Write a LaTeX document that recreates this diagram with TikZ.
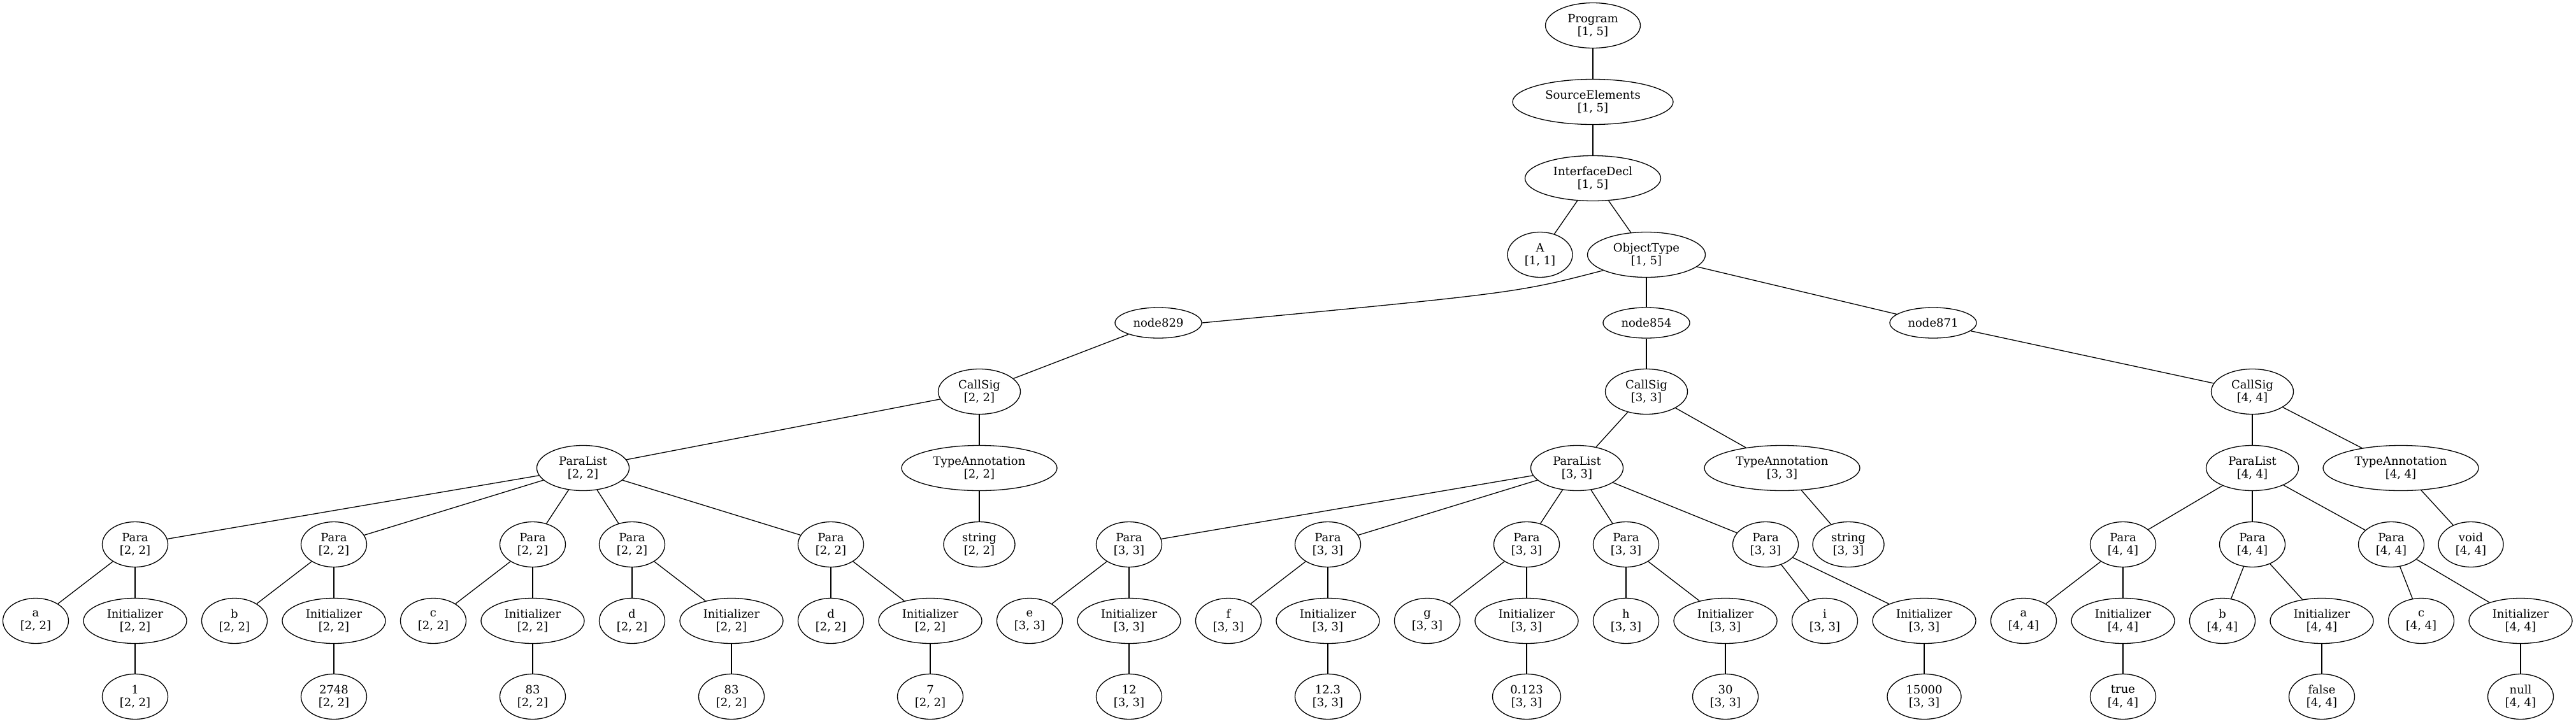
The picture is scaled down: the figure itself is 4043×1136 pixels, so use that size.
\documentclass[tikz,border=0pt]{standalone}
\usepackage{fontspec}
\setmainfont{DejaVu Serif}
\usepackage{tikz}
\usetikzlibrary{shapes.geometric}
\newcommand{\lnrg}[2]{[#1, #2]}
\tikzset{ast node/.style={ellipse,draw,line width=1.3pt,inner sep=0pt,minimum width=103pt,minimum height=71pt,align=center,font=\fontsize{18}{20.5}\selectfont},
  name node/.style={ast node,minimum width=136pt,minimum height=48pt},
  init node/.style={ast node,minimum width=162pt},}

\begin{document}
\begin{tikzpicture}[x=1pt,y=-1pt]
    \useasboundingbox (0,0) rectangle (4043,1136);

    \node[ast node,minimum width=149pt] (prog) at (2500,40) {Program\\\lnrg{1}{5}};
    \node[ast node,minimum width=252pt] (src) at (2500,160) {SourceElements\\\lnrg{1}{5}};
    \node[ast node,minimum width=213pt] (idecl) at (2500,280) {InterfaceDecl\\\lnrg{1}{5}};
    \node[ast node,minimum width=102pt] (A) at (2417,400) {A\\\lnrg{1}{1}};
    \node[ast node,minimum width=185pt] (obj) at (2584,400) {ObjectType\\\lnrg{1}{5}};

    \node[name node] (n829) at (1818,507) {node829};
    \node[name node] (n854) at (2584,507) {node854};
    \node[name node] (n871) at (3034,507) {node871};

    \node[ast node,minimum width=129pt] (cs2) at (1537,615) {CallSig\\\lnrg{2}{2}};
    \node[ast node,minimum width=129pt] (cs3) at (2584,615) {CallSig\\\lnrg{3}{3}};
    \node[ast node,minimum width=129pt] (cs4) at (3535,615) {CallSig\\\lnrg{4}{4}};

    \node[ast node,minimum width=145pt] (pl2) at (915,735) {ParaList\\\lnrg{2}{2}};
    \node[ast node,minimum width=244pt] (ta2) at (1537,735) {TypeAnnotation\\\lnrg{2}{2}};
    \node[ast node,minimum width=145pt] (pl3) at (2475,735) {ParaList\\\lnrg{3}{3}};
    \node[ast node,minimum width=244pt] (ta3) at (2797,735) {TypeAnnotation\\\lnrg{3}{3}};
    \node[ast node,minimum width=145pt] (pl4) at (3535,735) {ParaList\\\lnrg{4}{4}};
    \node[ast node,minimum width=244pt] (ta4) at (3768,735) {TypeAnnotation\\\lnrg{4}{4}};

    \node[ast node] (p2a) at (212,855) {Para\\\lnrg{2}{2}};
    \node[ast node] (p2b) at (524,855) {Para\\\lnrg{2}{2}};
    \node[ast node] (p2c) at (836,855) {Para\\\lnrg{2}{2}};
    \node[ast node] (p2d) at (992,855) {Para\\\lnrg{2}{2}};
    \node[ast node] (p2e) at (1304,855) {Para\\\lnrg{2}{2}};
    \node[ast node,minimum width=112pt] (str2) at (1537,855) {string\\\lnrg{2}{2}};
    \node[ast node] (p3e) at (1772,855) {Para\\\lnrg{3}{3}};
    \node[ast node] (p3f) at (2084,855) {Para\\\lnrg{3}{3}};
    \node[ast node] (p3g) at (2396,855) {Para\\\lnrg{3}{3}};
    \node[ast node] (p3h) at (2552,855) {Para\\\lnrg{3}{3}};
    \node[ast node] (p3i) at (2771,855) {Para\\\lnrg{3}{3}};
    \node[ast node,minimum width=112pt] (str3) at (2901,855) {string\\\lnrg{3}{3}};
    \node[ast node] (p4a) at (3332,855) {Para\\\lnrg{4}{4}};
    \node[ast node] (p4b) at (3535,855) {Para\\\lnrg{4}{4}};
    \node[ast node] (p4c) at (3753,855) {Para\\\lnrg{4}{4}};
    \node[ast node,minimum width=102pt] (void) at (3878,855) {void\\\lnrg{4}{4}};

    \node[ast node] (v2a) at (56,975) {a\\\lnrg{2}{2}};
    \node[init node] (i2a) at (212,975) {Initializer\\\lnrg{2}{2}};
    \node[ast node] (v2b) at (368,975) {b\\\lnrg{2}{2}};
    \node[init node] (i2b) at (524,975) {Initializer\\\lnrg{2}{2}};
    \node[ast node] (v2c) at (680,975) {c\\\lnrg{2}{2}};
    \node[init node] (i2c) at (836,975) {Initializer\\\lnrg{2}{2}};
    \node[ast node] (v2d) at (992,975) {d\\\lnrg{2}{2}};
    \node[init node] (i2d) at (1148,975) {Initializer\\\lnrg{2}{2}};
    \node[ast node] (v2e) at (1304,975) {d\\\lnrg{2}{2}};
    \node[init node] (i2e) at (1460,975) {Initializer\\\lnrg{2}{2}};
    \node[ast node] (v3e) at (1616,975) {e\\\lnrg{3}{3}};
    \node[init node] (i3e) at (1772,975) {Initializer\\\lnrg{3}{3}};
    \node[ast node] (v3f) at (1928,975) {f\\\lnrg{3}{3}};
    \node[init node] (i3f) at (2084,975) {Initializer\\\lnrg{3}{3}};
    \node[ast node] (v3g) at (2240,975) {g\\\lnrg{3}{3}};
    \node[init node] (i3g) at (2396,975) {Initializer\\\lnrg{3}{3}};
    \node[ast node] (v3h) at (2552,975) {h\\\lnrg{3}{3}};
    \node[init node] (i3h) at (2708,975) {Initializer\\\lnrg{3}{3}};
    \node[ast node] (v3i) at (2864,975) {i\\\lnrg{3}{3}};
    \node[init node] (i3i) at (3020,975) {Initializer\\\lnrg{3}{3}};
    \node[ast node] (v4a) at (3176,975) {a\\\lnrg{4}{4}};
    \node[init node] (i4a) at (3332,975) {Initializer\\\lnrg{4}{4}};
    \node[ast node] (v4b) at (3488,975) {b\\\lnrg{4}{4}};
    \node[init node] (i4b) at (3644,975) {Initializer\\\lnrg{4}{4}};
    \node[ast node] (v4c) at (3800,975) {c\\\lnrg{4}{4}};
    \node[init node] (i4c) at (3956,975) {Initializer\\\lnrg{4}{4}};

    \node[ast node] (l2a) at (212,1094) {1\\\lnrg{2}{2}};
    \node[ast node] (l2b) at (524,1094) {2748\\\lnrg{2}{2}};
    \node[ast node] (l2c) at (836,1094) {83\\\lnrg{2}{2}};
    \node[ast node] (l2d) at (1148,1094) {83\\\lnrg{2}{2}};
    \node[ast node] (l2e) at (1460,1094) {7\\\lnrg{2}{2}};
    \node[ast node] (l3e) at (1772,1094) {12\\\lnrg{3}{3}};
    \node[ast node] (l3f) at (2084,1094) {12.3\\\lnrg{3}{3}};
    \node[ast node,minimum width=107pt] (l3g) at (2396,1094) {0.123\\\lnrg{3}{3}};
    \node[ast node] (l3h) at (2708,1094) {30\\\lnrg{3}{3}};
    \node[ast node,minimum width=116pt] (l3i) at (3020,1094) {15000\\\lnrg{3}{3}};
    \node[ast node] (l4a) at (3332,1094) {true\\\lnrg{4}{4}};
    \node[ast node] (l4b) at (3644,1094) {false\\\lnrg{4}{4}};
    \node[ast node] (l4c) at (3956,1094) {null\\\lnrg{4}{4}};

    \draw[line width=1.3pt] (obj.200) .. controls (2380,460) .. (n829.east);

    \path[draw,line width=1.3pt]
    (prog) edge (src)
    (src) edge (idecl)
    (idecl) edge (A)
    (idecl) edge (obj)
    (obj) edge (n854)
    (obj) edge (n871)
    (n829) edge (cs2)
    (n854) edge (cs3)
    (n871) edge (cs4)
    (cs2) edge (pl2)
    (cs2) edge (ta2)
    (cs3) edge (pl3)
    (cs3) edge (ta3)
    (cs4) edge (pl4)
    (cs4) edge (ta4)
    (ta2) edge (str2)
    (ta3) edge (str3)
    (ta4) edge (void)
    (pl2) edge (p2a) (pl2) edge (p2b) (pl2) edge (p2c) (pl2) edge (p2d) (pl2) edge (p2e)
    (pl3) edge (p3e) (pl3) edge (p3f) (pl3) edge (p3g) (pl3) edge (p3h) (pl3) edge (p3i)
    (pl4) edge (p4a) (pl4) edge (p4b) (pl4) edge (p4c)
    (p2a) edge (v2a) (p2a) edge (i2a) (i2a) edge (l2a)
    (p2b) edge (v2b) (p2b) edge (i2b) (i2b) edge (l2b)
    (p2c) edge (v2c) (p2c) edge (i2c) (i2c) edge (l2c)
    (p2d) edge (v2d) (p2d) edge (i2d) (i2d) edge (l2d)
    (p2e) edge (v2e) (p2e) edge (i2e) (i2e) edge (l2e)
    (p3e) edge (v3e) (p3e) edge (i3e) (i3e) edge (l3e)
    (p3f) edge (v3f) (p3f) edge (i3f) (i3f) edge (l3f)
    (p3g) edge (v3g) (p3g) edge (i3g) (i3g) edge (l3g)
    (p3h) edge (v3h) (p3h) edge (i3h) (i3h) edge (l3h)
    (p3i) edge (v3i) (p3i) edge (i3i) (i3i) edge (l3i)
    (p4a) edge (v4a) (p4a) edge (i4a) (i4a) edge (l4a)
    (p4b) edge (v4b) (p4b) edge (i4b) (i4b) edge (l4b)
    (p4c) edge (v4c) (p4c) edge (i4c) (i4c) edge (l4c)
    ;
\end{tikzpicture}
\end{document}
